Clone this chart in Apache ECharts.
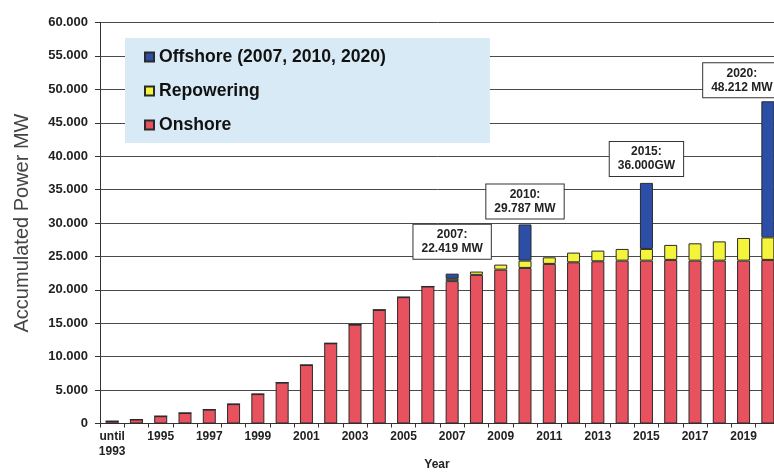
<!DOCTYPE html>
<html>
<head>
<meta charset="utf-8">
<script src="https://cdn.jsdelivr.net/npm/echarts@6/dist/echarts.min.js"></script>
<style>
html,body{margin:0;padding:0;background:#fff;overflow:hidden;}
#chart{width:774px;height:474px;}
</style>
</head>
<body>
<div id="chart"></div>
<script>
var categories = ['until\n1993','1994','1995','1996','1997','1998','1999','2000','2001','2002','2003','2004','2005','2006','2007','2008','2009','2010','2011','2012','2013','2014','2015','2016','2017','2018','2019','2020'];
var onshore = [340,600,1090,1570,2080,2900,4400,6120,8750,12000,14800,17000,18900,20500,21300,22240,23030,23280,23880,24120,24270,24370,24370,24480,24370,24370,24370,24480];
var repowering = [0,0,0,0,0,0,0,0,0,0,0,0,0,0,350,490,745,1090,985,1450,1600,1750,1750,2240,2590,2880,3390,3370];
var offshore = [null,null,null,null,null,null,null,null,null,null,null,null,null,null,769,null,null,5417,null,null,null,null,9880,null,null,null,null,20362];
var annotationYears = ['2007','2010','2015','2020'];
var annotationTexts = ['2007:\n22.419 MW','2010:\n29.787 MW','2015:\n36.000GW','2020:\n48.212 MW'];
var yTicks = [0,5000,10000,15000,20000,25000,30000,35000,40000,45000,50000,55000,60000];

var labelStyle = {
  '2007': {distance: 15, offset: [0, 0]},
  '2010': {distance: 6, offset: [0, 0]},
  '2015': {distance: 7, offset: [0, 0]},
  '2020': {distance: 4, offset: [-26, 0]}
};

function fmt(v){
  var s = String(Math.round(v));
  return s.replace(/\B(?=(\d{3})+(?!\d))/g, '.');
}

var offshoreData = offshore.map(function(v, i){
  var cat = categories[i];
  var k = annotationYears.indexOf(cat);
  if (k >= 0) {
    var st = labelStyle[cat];
    return {
      value: v,
      label: {
        show: true,
        position: 'top',
        distance: st.distance,
        offset: st.offset,
        formatter: annotationTexts[k]
      }
    };
  }
  return v;
});

var chart = echarts.init(document.getElementById('chart'), null, {renderer: 'canvas'});
var font = 'Liberation Sans, Arial, sans-serif';
var border = {borderColor: '#2a2a2a', borderWidth: 1};

chart.setOption({
  backgroundColor: '#ffffff',
  animation: false,
  textStyle: {fontFamily: font},
  grid: {left: 100, top: 22.5, width: 680, height: 401, outerBoundsMode: 'none', containLabel: false},
  legend: {
    orient: 'vertical',
    left: 125,
    top: 38,
    data: ['Offshore (2007, 2010, 2020)', 'Repowering', 'Onshore'],
    backgroundColor: '#d8eaf6',
    padding: [10, 104, 9, 19],
    itemWidth: 9,
    itemHeight: 9,
    itemGap: 16,
    icon: 'rect',
    textStyle: {fontFamily: font, fontSize: 17.6, lineHeight: 18, fontWeight: 'bold', color: '#111'}
  },
  xAxis: {
    type: 'category',
    data: categories,
    name: 'Year',
    nameLocation: 'middle',
    nameGap: 35,
    nameMoveOverlap: false,
    nameTextStyle: {fontFamily: font, fontSize: 12, fontWeight: 'bold', color: '#222', padding: [0, 6, 0, 0]},
    axisLine: {lineStyle: {color: '#333', width: 1}},
    axisTick: {show: true, interval: 0, length: 4, lineStyle: {color: '#333'}},
    axisLabel: {interval: 1, fontFamily: font, fontSize: 12, fontWeight: 'bold', color: '#222', margin: 6, lineHeight: 15}
  },
  yAxis: {
    type: 'value',
    min: 0,
    max: 60000,
    interval: 5000,
    name: 'Accumulated Power MW',
    nameLocation: 'middle',
    nameGap: 68,
    nameMoveOverlap: false,
    nameTextStyle: {fontFamily: font, fontSize: 20, color: '#444'},
    axisLine: {show: true, lineStyle: {color: '#333', width: 1}},
    axisTick: {show: true, length: 5, lineStyle: {color: '#333'}},
    splitLine: {lineStyle: {color: '#4a4a4a', width: 1}},
    axisLabel: {
      fontFamily: font, fontSize: 13, fontWeight: 'bold', color: '#222', margin: 12,
      formatter: function(v){ return yTicks.indexOf(v) >= 0 ? fmt(v) : ''; }
    }
  },
  series: [
    {
      name: 'Onshore', type: 'bar', stack: 'total', barWidth: 13,
      data: onshore,
      itemStyle: Object.assign({color: '#e8525e'}, border)
    },
    {
      name: 'Repowering', type: 'bar', stack: 'total', barWidth: 13,
      data: repowering,
      itemStyle: Object.assign({color: '#f4f43a'}, border)
    },
    {
      name: 'Offshore (2007, 2010, 2020)', type: 'bar', stack: 'total', barWidth: 13,
      data: offshoreData,
      itemStyle: Object.assign({color: '#2c4ea6'}, border),
      label: {
        fontFamily: font, fontSize: 12, fontWeight: 'bold', color: '#222', lineHeight: 14,
        backgroundColor: '#ffffff', borderColor: '#333', borderWidth: 1, padding: [3, 8]
      }
    }
  ]
});
</script>
</body>
</html>
